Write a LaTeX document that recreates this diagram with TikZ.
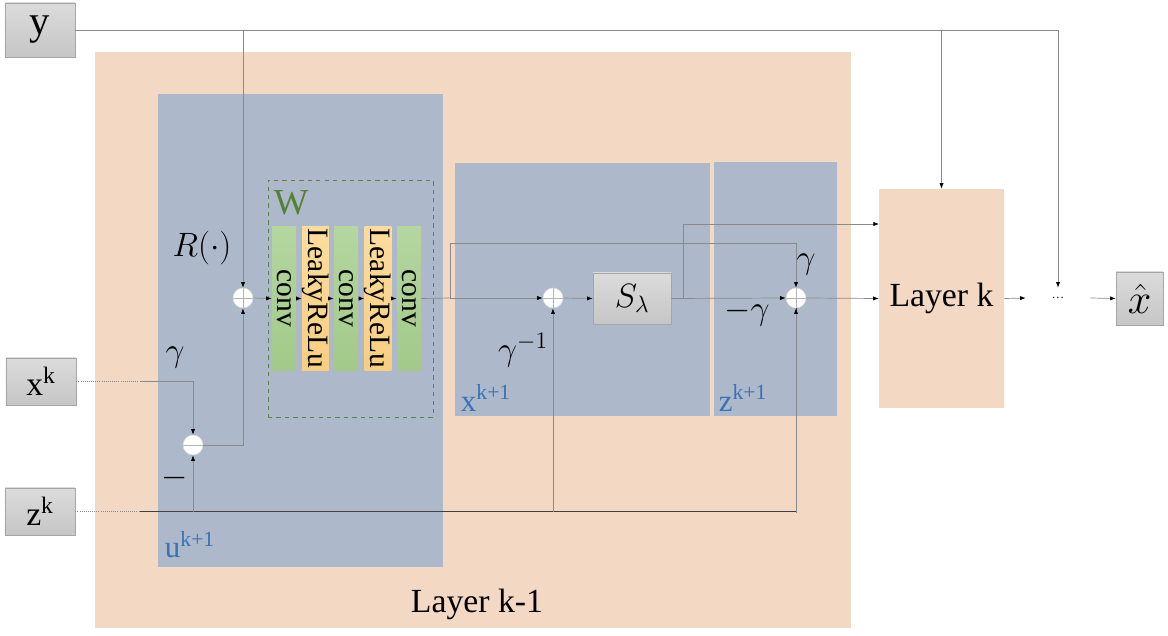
\documentclass[tikz,border=0pt]{standalone}
\usepackage{fix-cm}
\usepackage{fontspec}
\setmainfont{Liberation Serif}
\usepackage{amsmath}
\usepackage{amssymb}
\usepackage{tikz}
\usetikzlibrary{arrows.meta}

\definecolor{peach}{HTML}{F3D9C4}
\definecolor{slate}{HTML}{ADB9CA}
\definecolor{linegray}{HTML}{8A8A8A}
\definecolor{labelblue}{HTML}{3A72B6}
\definecolor{wgreen}{HTML}{548235}
\definecolor{convtop}{HTML}{B5D6A0}
\definecolor{convbot}{HTML}{A2C98A}
\definecolor{relutop}{HTML}{FCDC9E}
\definecolor{relubot}{HTML}{F7CE82}
\newcommand{\bigtxt}{\fontsize{24}{28}\selectfont}

\begin{document}
\begin{tikzpicture}[x=0.025cm,y=-0.025cm,>={Latex[black,length=4pt,width=3pt]},
    region/.style={fill=#1,draw=none,inner sep=0pt},
    inbox/.style={draw=gray!70,top color=gray!28,bottom color=gray!45,inner sep=0pt,font=\bigtxt},
    convblk/.style={draw=none,top color=convtop,bottom color=convbot,
        minimum width=0.6cm,minimum height=3.575cm,inner sep=0pt,font=\fontsize{21}{23}\selectfont},
    relublk/.style={convblk,top color=relutop,bottom color=relubot},
    sumnode/.style={circle,fill=white,draw=gray!30,minimum size=0.5cm,inner sep=0pt,
        path picture={\draw[gray!60,line width=0.3pt]
            (path picture bounding box.north)--(path picture bounding box.south)
            (path picture bounding box.west)--(path picture bounding box.east);}},
    subnode/.style={circle,fill=white,draw=gray!30,minimum size=0.5cm,inner sep=0pt,
        path picture={\draw[gray!60,line width=0.3pt]
            (path picture bounding box.west)--(path picture bounding box.east);}},
    wire/.style={draw=linegray,line width=0.5pt},
    blocklabel/.style={text=labelblue,font=\fontsize{22}{26}\selectfont,inner sep=0pt}]
    \useasboundingbox (0,0) rectangle (1168,636);
    % 绘制背景区域
    \node[region=peach,minimum width=18.9cm,minimum height=14.4cm](layerprev)at(473,340){};
    \node[region=slate,minimum width=7.125cm,minimum height=11.825cm](ublock)at(300.5,330.5){};
    \node[region=slate,minimum width=6.375cm,minimum height=6.325cm](xblock)at(582.5,289.5){};
    \node[region=slate,minimum width=3.075cm,minimum height=6.35cm](zblock)at(775.5,289){};
    \node[region=peach,minimum width=3.125cm,minimum height=5.475cm,font=\bigtxt](layerk)at(941.5,298.5){Layer k};
    \node[draw=wgreen!70!gray,dashed,minimum width=4.125cm,minimum height=5.925cm](wbox)at(350.5,298.5){};
    % 输入输出
    \node[inbox,minimum width=1.75cm,minimum height=1.35cm,font=\fontsize{29}{30}\selectfont](ybox)at(40,30){y};
    \node[inbox,minimum width=1.75cm,minimum height=1.175cm](xkbox)at(41,381.5){x\textsuperscript{k}};
    \node[inbox,minimum width=1.75cm,minimum height=1.175cm](zkbox)at(40,511.5){z\textsuperscript{k}};
    \node[inbox,minimum width=1.175cm,minimum height=1.325cm,font=\fontsize{30}{32}\selectfont](xhat)at(1139.5,298.5){$\hat{x}$};
    \node[minimum width=1.6cm,minimum height=0.5cm,inner sep=0pt,font=\fontsize{9}{10}\selectfont](dots)at(1058,298){\textellipsis};
    % 卷积模块
    \node[convblk](c1)at(284,298.5){\rotatebox{-90}{conv}};
    \node[relublk](c2)at(315.5,298.5){\rotatebox{-90}{LeakyReLu}};
    \node[convblk](c3)at(346,298.5){\rotatebox{-90}{conv}};
    \node[relublk](c4)at(378,298.5){\rotatebox{-90}{LeakyReLu}};
    \node[convblk](c5)at(409,298.5){\rotatebox{-90}{conv}};
    % 求和节点
    \node[sumnode](sumr)at(243,298){};
    \node[subnode](sumu)at(193,445){};
    \node[sumnode](sumx)at(553,298){};
    \node[sumnode](sumz)at(796,298){};
    \node[inbox,minimum width=1.95cm,minimum height=1.275cm](sbox)at(632,298.5){$S_\lambda$};
    % 辅助点
    \coordinate(xkjoint)at(140,381.5);
    \coordinate(zkjoint)at(140,511.5);
    \coordinate(split1)at(450,298);
    \coordinate(split2)at(683,298);
    \coordinate(kin)at(879,224);
    % y 的连线
    \draw[wire,->](ybox.east)-|(dots.north);
    \draw[wire,->](sumr|-ybox.east)--(sumr.north);
    \draw[wire,->](layerk.north|-ybox.east)--(layerk.north);
    % x^k 和 z^k 的连线
    \draw[wire,densely dotted](xkbox.east)--(xkjoint);
    \draw[wire,->](xkjoint)-|(sumu.north);
    \draw[wire,densely dotted](zkbox.east)--(zkjoint);
    \draw[draw=black!75,line width=0.5pt](zkjoint)-|(sumz.south);
    \draw[wire,->](sumu|-zkjoint)--(sumu.south);
    \draw[wire,->](sumx|-zkjoint)--(sumx.south);
    \draw[wire,->]([yshift=-1pt]sumz|-zkjoint)--(sumz.south);
    % 主通路
    \draw[wire,->](sumu.east)-|(sumr.south);
    \draw[wire,->](sumr.east)--(c1.west);
    \draw[wire,->](c1.east)--(c2.west);
    \draw[wire,->](c2.east)--(c3.west);
    \draw[wire,->](c3.east)--(c4.west);
    \draw[wire,->](c4.east)--(c5.west);
    \draw[wire](c5.east)--(split1);
    \draw[wire,->](split1)--(sumx.west);
    \draw[wire,->](split1)|-(450,243)-|(sumz.north);
    \draw[wire,->](sumx.east)--(sbox.west);
    \draw[wire,->](sbox.east)--(sumz.west);
    \draw[wire,->](split2)|-(kin);
    \draw[wire,->](sumz.east)--(layerk.west);
    \draw[wire,->](layerk.east)--(dots.west);
    \draw[wire,->](dots.east)--(xhat.west);
    % 添加标签
    \node[font=\bigtxt]at(202,248){$R(\cdot)$};
    \node[font=\bigtxt]at(175,358){$\gamma$};
    \node[font=\bigtxt]at(175,478){$-$};
    \node[font=\bigtxt]at(523,350){$\gamma^{-1}$};
    \node[font=\bigtxt]at(747,313){$-\gamma$};
    \node[font=\bigtxt]at(806,265){$\gamma$};
    \node[text=wgreen,font=\fontsize{26}{28}\selectfont]at(291,203){W};
    \node[blocklabel]at(190,545){u\textsuperscript{k+1}};
    \node[blocklabel]at(486,398){x\textsuperscript{k+1}};
    \node[blocklabel]at(743,398){z\textsuperscript{k+1}};
    \node[font=\bigtxt]at(477,604){Layer k-1};
\end{tikzpicture}
\end{document}
